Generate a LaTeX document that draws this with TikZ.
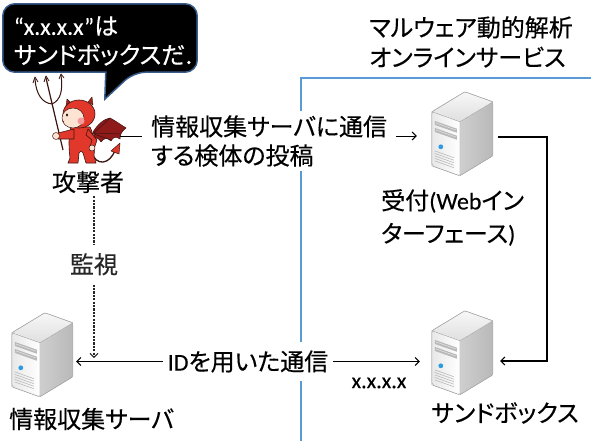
\documentclass[tikz,border=0pt]{standalone}
\usepackage{fontspec}
\setmainfont{Carlito}
\newfontfamily\jp[RawFeature=+palt, FakeBold=0.35]{Noto Sans CJK JP}
\newfontfamily\lat[FakeBold=0.2]{Carlito}
\usetikzlibrary{calc,arrows.meta,backgrounds}

\definecolor{frameblue}{HTML}{5B9BD5}
\definecolor{bubbleedge}{HTML}{385D8A}
\definecolor{devilred}{HTML}{E2382B}
\definecolor{wingred}{HTML}{8E1A1A}
\definecolor{skin}{HTML}{FCE3D2}
\definecolor{cheek}{HTML}{F59A9A}
\definecolor{inkdark}{HTML}{3A1410}
\definecolor{ledblue}{HTML}{2E9BE0}

\tikzset{
  jptext/.style={font=\jp\fontsize{24}{29}\selectfont, inner sep=0pt},
  barb/.tip={Straight Barb[length=4pt,width=8pt,line width=1pt]},
  srvbox/.style={inner sep=0pt, minimum width=62pt, minimum height=84pt},
  monline/.style={line width=1.2pt, black!85, dash pattern=on 2.2pt off 1.2pt},
  % tower server icon, local origin at its top-left corner
  server/.pic={
    % right side
    \fill[left color=gray!38, right color=gray!55]
      (28,30) -- (61,10) -- (61,64) -- (28,84) -- cycle;
    % top
    \fill[top color=gray!6, bottom color=gray!25]
      (0,20) -- (33,0) -- (61,10) -- (28,30) -- cycle;
    % front
    \fill[left color=gray!18, right color=white]
      (0,20) -- (28,30) -- (28,84) -- (0,74) -- cycle;
    \draw[gray!65, line width=0.6pt, rounded corners=2pt]
      (0,20) -- (33,0) -- (61,10) -- (61,64) -- (28,84) -- (0,74) -- cycle;
    \draw[gray!45, line width=0.4pt] (0,20) -- (28,30) -- (61,10) (28,30) -- (28,84);
    % drive slots
    \fill[gray!55] (3,29.1) -- (25,36.9) -- (25,40.9) -- (3,33.1) -- cycle;
    \fill[gray!55] (3,36.1) -- (25,43.9) -- (25,47.9) -- (3,40.1) -- cycle;
    \draw[gray!20, line width=0.5pt] (4,31.1) -- (24,38.2) (4,38.1) -- (24,45.2);
    % power light
    \fill[ledblue] (9,55) circle (2.4);
    % vents
    \foreach \v in {38,40.5,43,45.5,48}
      \draw[gray!55, line width=0.6pt] (3,21.1+\v) -- (22,27.9+\v);
  }
}

\begin{document}
\begin{tikzpicture}[x=1pt,y=-1pt]
\useasboundingbox (0,0) rectangle (591,441);

% ---------- speech bubble ----------
\node[inner sep=0pt, minimum width=194pt, minimum height=68pt] (bub) at (100,38) {};
\begin{scope}[on background layer]
  \fill[white] (0,0) rectangle (591,441);
  \draw[fill=black, draw=bubbleedge, line width=1.5pt, rounded corners=12pt]
    (bub.west) -- (bub.north west) -- (bub.north east) -- (bub.south east)
    -- ($(bub.south west)+(131,0)$)
    [sharp corners] -- ($(bub.south west)+(102,27)$) -- ($(bub.south west)+(103,0)$)
    [rounded corners=12pt] -- (bub.south west) -- cycle;
\end{scope}
\node[jptext, text=white, align=left] (bubtext) at (103,41)
  {{\lat “x.x.x.x”}は\\サンドボックスだ.};

% ---------- service frame ----------
\draw[frameblue, line width=1.3pt] (301,441) -- (301,78) -- (591,78);
\node[jptext, align=left, anchor=north west, font=\jp\fontsize{24}{30}\selectfont]
  (title) at (369,16) {マルウェア動的解析\\オンラインサービス};

% ---------- servers ----------
\node[srvbox] (srv1) at (463,134) {};
\pic at (srv1.north west) {server};
\node[srvbox] (sb) at (463,353) {};
\pic at (sb.north west) {server};
\node[srvbox] (info) at (43,355) {};
\pic at (info.north west) {server};

\node[jptext, align=left, anchor=north west, font=\jp\fontsize{24}{33}\selectfont]
  (srv1lbl) at (381,189) {受付{\lat (Web}イン\\ターフェース{\lat )}};
\node[jptext] (sblbl) at (505,413) {サンドボックス};
\node[jptext, anchor=west] (infolbl) at (9,419) {情報収集サーバ};

% ---------- devil ----------
\node[inner sep=0pt, minimum width=80pt, minimum height=90pt] (devil) at (80,136) {};
\begin{scope}[line join=round]
  % wing
  \fill[wingred, draw=inkdark, line width=0.5pt]
    (93,132) .. controls (98,124) and (104,119) .. (110,118)
    .. controls (116,121) and (121,125) .. (126,128)
    .. controls (122,131) and (120,134) .. (120,139)
    .. controls (116,136) and (113,137) .. (111,141)
    .. controls (107,137) and (104,138) .. (101,142)
    .. controls (99,139) and (97,137) .. (95,138) -- cycle;
  \draw[inkdark, line width=0.5pt] (94,133) -- (110,118) (94,133) -- (120,134) (94,134) -- (111,140);
  % tail
  \draw[inkdark, line width=1.3pt] (92,153) .. controls (96,166) and (110,165) .. (115,150);
  \fill[devilred, draw=inkdark, line width=0.5pt] (111,151) -- (120,143) -- (119,154) -- cycle;
  % trident
  \draw[inkdark, line width=1.2pt] (46,78) -- (63,150);
  \draw[inkdark, line width=1pt]
    (35,79) .. controls (36,94) and (42,103) .. (52,104)
    (61,75) .. controls (63,90) and (61,100) .. (52,104);
  \draw[inkdark, line width=0.8pt] (33,83) -- (35,77) -- (38,82) (44,82) -- (46,76) -- (49,81) (59,79) -- (61,74) -- (64,78);
  % legs and body
  \fill[devilred, draw=inkdark, line width=0.6pt]
    (71,127) .. controls (68,136) and (69,150) .. (70,158)
    -- (68,163) -- (78,163) -- (79,153) -- (81,151) -- (83,153)
    -- (86,163) -- (96,163) -- (94,156)
    .. controls (95,146) and (94,135) .. (90,127) -- cycle;
  % arms
  \fill[devilred, draw=inkdark, line width=0.6pt]
    (74,129) -- (58,133) -- (58,139) -- (74,139) -- cycle;
  \fill[devilred, draw=inkdark, line width=0.6pt]
    (88,129) -- (97,140) -- (94,149) -- (90,147) -- (92,140) -- (86,135) -- cycle;
  \fill[skin, draw=inkdark, line width=0.5pt] (56,136) circle (3.5);
  \fill[skin, draw=inkdark, line width=0.5pt] (92,148) circle (3);
  % horns
  \fill[devilred!70!black, draw=inkdark, line width=0.4pt] (66,106) -- (67,99) -- (71,103) -- cycle;
  \fill[devilred!70!black, draw=inkdark, line width=0.4pt] (88,102) -- (92,97) -- (93,105) -- cycle;
  % hood and face
  \fill[devilred, draw=inkdark, line width=0.6pt] (79,114) ellipse (16 and 14);
  \fill[skin, draw=inkdark, line width=0.5pt] (73,118) ellipse (11 and 10);
  \fill[cheek] (81,121) circle (3.5);
  \fill[black] (67,115) ellipse (1 and 1.6);
  \draw[inkdark, line width=0.5pt] (64,121) -- (63,122);
\end{scope}
\node[jptext, inner ysep=3pt] (atk) at (88,182) {攻撃者};

% ---------- connectors ----------
\draw[line width=0.8pt, -barb] (devil.east) -- ($(srv1.west)+(-15,2)$);
\node[jptext, fill=white, align=left, inner xsep=9pt, inner ysep=4pt, anchor=west]
  (post) at (142,141) {情報収集サーバに通信\\する検体の投稿};

\draw[line width=1.8pt, -barb] ($(srv1.east)+(4,3)$) -| ($(sb.east)+(53,8)$) -- ($(sb.east)+(6,8)$);

\draw[line width=1.2pt, barb-barb] ($(info.east)+(2,6.5)$) -- ($(sb.west)+(-12,8.5)$)
  node[pos=0.5, jptext, fill=white, inner xsep=5pt, inner ysep=8pt] (idlbl)
  {{\lat ID}を用いた通信\hspace{12pt}};
\node[font=\lat\fontsize{22}{26}\selectfont, inner sep=0pt] (addr) at (379,383) {x.x.x.x};

\coordinate (mon) at (94,358);
\draw[monline, -barb] (atk.south -| mon) -- (mon)
  node[pos=0.42, jptext, fill=white, inner ysep=8pt, inner xsep=2pt] (monlbl) {監視};
\end{tikzpicture}
\end{document}
